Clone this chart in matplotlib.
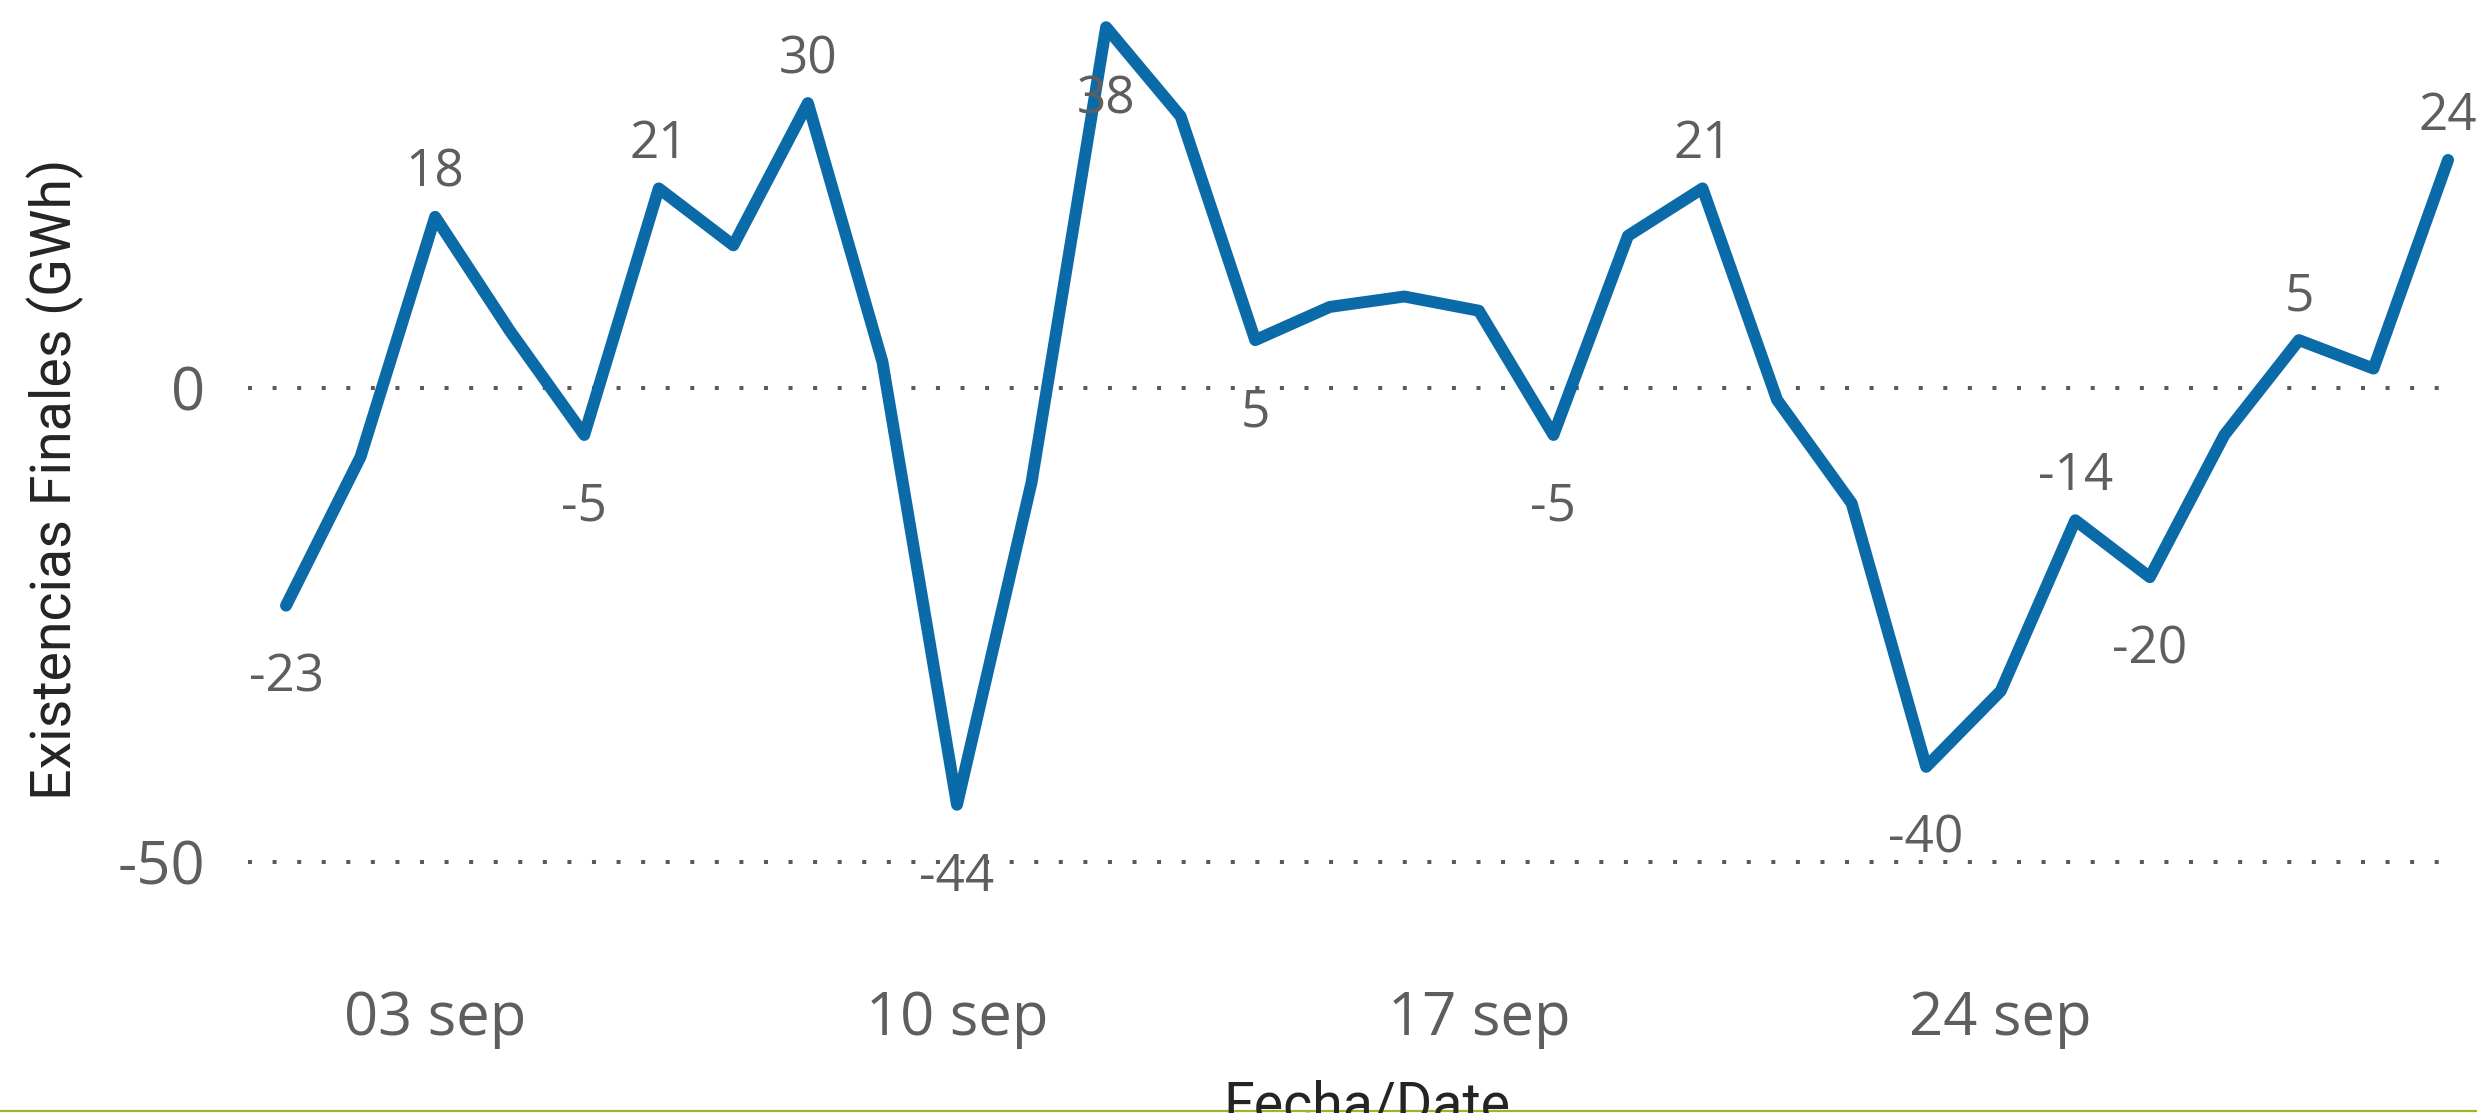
import matplotlib
matplotlib.use("Agg")
import matplotlib.pyplot as plt
from matplotlib import transforms

# ---- data ----
days = [1, 2, 3, 4, 5, 6, 7, 8, 9, 10, 11, 12, 13, 14, 15,
        16, 17, 18, 19, 20, 21, 22, 23, 24, 25, 26, 27, 28, 29, 30]
values = [-23, -7.3, 18, 6, -5, 21, 15, 30, 2.7, -44, -10, 38, 28.6, 5, 8.5,
          9.6, 8.1, -5, 16, 21, -1.3, -12.2, -40, -32, -14, -20, -5, 5, 2, 24]
label_days = [1, 3, 5, 6, 8, 10, 12, 14, 18, 20, 23, 25, 26, 28, 30]
label_side = ["below", "above", "below", "above", "above", "below", "below", "below",
              "below", "above", "below", "above", "below", "above", "above"]
xtick_days = [3, 10, 17, 24]
xtick_labels = ["03 sep", "10 sep", "17 sep", "24 sep"]
ytick_values = [0, -50]
ytick_labels = ["0", "-50"]
y_title = "Existencias Finales (GWh)"
x_title = "Fecha/Date"

W, H = 2477, 1113
DPI = 100
fig = plt.figure(figsize=(W / DPI, H / DPI), dpi=DPI)
fig.patch.set_facecolor("white")

left_px, right_px = 248, 2457
ax = fig.add_axes([left_px / W, 0, (right_px - left_px) / W, 1])
ax.set_facecolor("none")
for s in ax.spines.values():
    s.set_visible(False)

ax.set_xlim(0.49, 30.12)
ax.set_ylim(-76.51, 40.87)

LABEL_COLOR = "#605E5C"
TITLE_COLOR = "#252423"
LINE_COLOR = "#0B6AA8"

# gridlines (dotted)
for v in ytick_values:
    ax.axhline(v, color="#5A5A5A", linewidth=2.9, linestyle=(0, (1, 5.1)),
               dash_capstyle="butt", zorder=1)

ax.plot(days, values, color=LINE_COLOR, linewidth=8.6, solid_joinstyle="round",
        solid_capstyle="round", zorder=3, clip_on=False)

# data labels
lookup = dict(zip(days, values))
for d, side in zip(label_days, label_side):
    v = lookup[d]
    off = 30 if side == "above" else -86
    ax.annotate(f"{round(v):d}", (d, v), xytext=(0, off), textcoords="offset pixels",
                ha="center", va="baseline", fontsize=37, color=LABEL_COLOR,
                family="Open Sans", zorder=4, annotation_clip=False)

# y ticks
ax.set_yticks(ytick_values)
ax.set_yticklabels(ytick_labels, fontsize=43, color=LABEL_COLOR, family="Open Sans")
ax.tick_params(axis="y", length=0, pad=31)
ax.set_xticks([])

# x tick labels
trans = transforms.blended_transform_factory(ax.transData, fig.transFigure)
for d, lab in zip(xtick_days, xtick_labels):
    ax.text(d, 1 - 1035 / H, lab, transform=trans, ha="center", va="baseline",
            fontsize=43, color=LABEL_COLOR, family="Open Sans")

# axis titles
fig.text(55 / W, 1 - 479 / H, y_title, rotation=90, ha="center", va="center",
         fontsize=40, color=TITLE_COLOR, family="Roboto")
fig.text(1367 / W, 1 - 1122 / H, x_title, ha="center", va="baseline",
         fontsize=40, color=TITLE_COLOR, family="Roboto")

# bottom accent line
fig.add_artist(plt.Line2D([0, 1], [1 - 1111 / H, 1 - 1111 / H], transform=fig.transFigure,
                          color="#9DB52A", linewidth=1.6))

fig.savefig("out.png", dpi=DPI, facecolor="white")
